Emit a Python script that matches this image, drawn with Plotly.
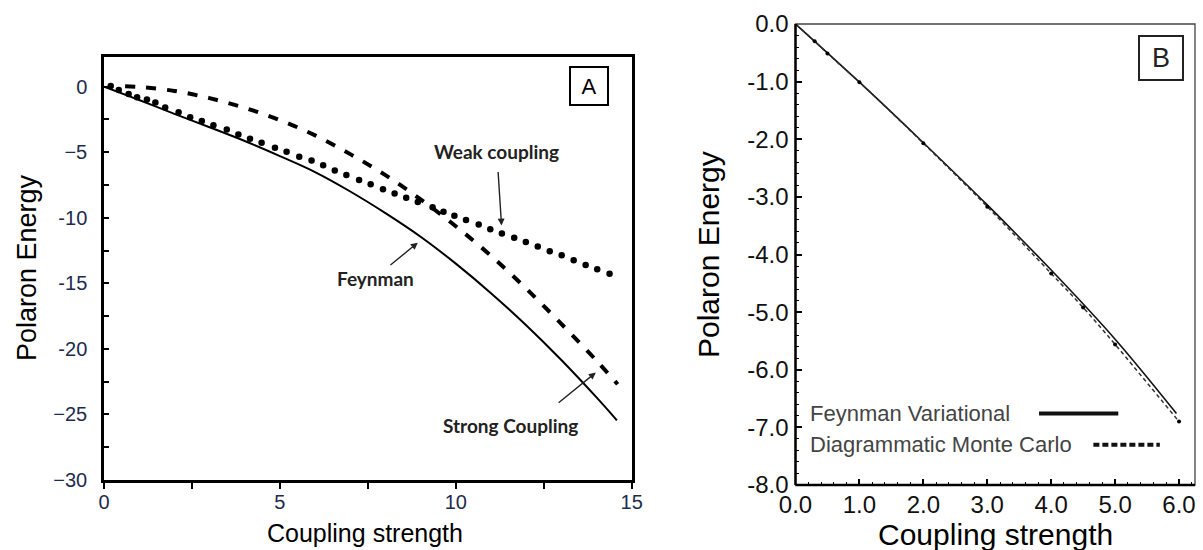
import plotly.graph_objects as go

W, H = 1203, 550

# ---------------- Panel A data ----------------
feynman_a_x = [0, 1, 2, 3, 4, 5, 6, 7, 8, 9, 10, 11, 12, 13, 14, 14.58]
feynman_a_y = [0, -1.02, -2.08, -3.1, -4.15, -5.3, -6.52, -8.0, -9.65, -11.45, -13.5,
               -15.75, -18.2, -20.85, -23.7, -25.45]

weak_x = [0.19, 0.42, 0.70, 0.94, 1.22, 1.46, 1.74, 2.12, 2.45, 2.78, 3.11, 3.49, 3.82, 4.15,
          4.48, 4.86, 5.19, 5.55, 5.90, 6.23, 6.56, 6.89, 7.25, 7.58, 7.93, 8.26, 8.59, 8.92,
          9.34, 9.65, 9.96, 10.29, 10.65, 10.98, 11.31, 11.66, 11.99, 12.33, 12.67, 13.01,
          13.35, 13.69, 14.02, 14.37]
weak_y = [0.05, -0.25, -0.56, -0.81, -0.98, -1.22, -1.6, -1.95, -2.33, -2.63, -2.94, -3.27,
          -3.65, -3.98, -4.28, -4.67, -4.97, -5.35, -5.63, -6.0, -6.4, -6.75, -7.12, -7.45,
          -7.83, -8.15, -8.47, -8.8, -9.2, -9.55, -9.84, -10.18, -10.52, -10.88, -11.2,
          -11.52, -11.85, -12.2, -12.55, -12.87, -13.25, -13.6, -13.93, -14.28]

strong_x = [0.6, 1, 2, 3, 4, 5, 6, 7, 8, 9, 10, 11, 12, 13, 14, 14.6]
strong_y = [0.02, -0.03, -0.33, -0.88, -1.62, -2.55, -3.72, -5.15, -6.75, -8.6, -10.65,
            -12.9, -15.4, -18.1, -20.9, -22.7]

a_xticks = [0, 5, 10, 15]
a_xticktext = ["0", "5", "10", "15"]
a_yticks = [0, -5, -10, -15, -20, -25, -30]
a_yticktext = ["0", "\u22125", "-10", "-15", "-20", "\u221225", "\u221230"]

# ---------------- Panel B data ----------------
feyn_b_x = [0, 1, 2, 3, 4, 5, 5.96]
feyn_b_y = [0, -1.01, -2.06, -3.14, -4.27, -5.47, -6.76]

dmc_x = [0, 0.3, 0.5, 1.0, 2.0, 3.0, 4.0, 4.5, 5.0, 6.0]
dmc_y = [0, -0.3, -0.51, -1.01, -2.07, -3.17, -4.33, -4.92, -5.56, -6.90]

b_xticks = [0, 1, 2, 3, 4, 5, 6]
b_xticktext = ["0.0", "1.0", "2.0", "3.0", "4.0", "5.0", "6.0"]
b_yticks = [0, -1, -2, -3, -4, -5, -6, -7, -8]
b_yticktext = ["0.0", "-1.0", "-2.0", "-3.0", "-4.0", "-5.0", "-6.0", "-7.0", "-8.0"]

legend_b = ["Feynman Variational", "Diagrammatic Monte Carlo"]


def px(x):
    return x / W


def py(y):
    return 1 - y / H


fig = go.Figure()

# Panel A traces
fig.add_trace(go.Scatter(x=feynman_a_x, y=feynman_a_y, mode="lines",
                         line=dict(color="black", width=2, shape="spline"),
                         xaxis="x", yaxis="y", showlegend=False))
fig.add_trace(go.Scatter(x=strong_x, y=strong_y, mode="lines",
                         line=dict(color="black", width=4, dash="10px,11px", shape="spline"),
                         xaxis="x", yaxis="y", showlegend=False))
fig.add_trace(go.Scatter(x=weak_x, y=weak_y, mode="markers",
                         marker=dict(color="black", size=6.5, line=dict(width=0)),
                         xaxis="x", yaxis="y", showlegend=False))

# Panel B traces
fig.add_trace(go.Scatter(x=feyn_b_x, y=feyn_b_y, mode="lines",
                         line=dict(color="#111", width=1.6, shape="spline"),
                         xaxis="x2", yaxis="y2", showlegend=False))
fig.add_trace(go.Scatter(x=dmc_x, y=dmc_y, mode="lines+markers",
                         line=dict(color="#333", width=1.5, dash="4px,3px", shape="spline"),
                         marker=dict(color="black", size=4),
                         xaxis="x2", yaxis="y2", showlegend=False))

navy = "#1d2b4d"
fontA = dict(family="Liberation Sans, Arial", size=20, color=navy)
fontB = dict(family="Liberation Sans, Arial", size=24, color="#111")

fig.update_layout(
    width=W, height=H,
    margin=dict(l=0, r=0, t=0, b=0, pad=0, autoexpand=False),
    paper_bgcolor="white", plot_bgcolor="white",
    xaxis=dict(domain=[px(104), px(631.7)], range=[0, 15], anchor="y", automargin=False,
               tickmode="array", tickvals=a_xticks, ticktext=a_xticktext,
               ticks="outside", ticklen=6, tickwidth=2, tickcolor="black",
               minor=dict(tickmode="linear", tick0=0, dtick=2.5, ticks="outside", ticklen=6,
                          tickwidth=2, tickcolor="black"),
               showgrid=False, zeroline=False, showline=True, linecolor="black", linewidth=2.5,
               mirror=True, tickfont=fontA, ticklabelstandoff=-4),
    yaxis=dict(domain=[py(480), py(56.7)], range=[-30, 2.28], anchor="x", automargin=False,
               tickmode="array", tickvals=a_yticks, ticktext=a_yticktext,
               ticks="inside", ticklen=5, tickwidth=1.5, tickcolor="black",
               minor=dict(tickmode="linear", tick0=0, dtick=2.5, ticks="inside", ticklen=5,
                          tickwidth=1.5, tickcolor="black"),
               showgrid=False, zeroline=False, showline=True, linecolor="black", linewidth=2.5,
               mirror=True, tickfont=fontA, ticklabelstandoff=10),
    xaxis2=dict(domain=[px(795.5), px(1195)], range=[0, 6.25], anchor="y2", automargin=False,
                tickmode="array", tickvals=b_xticks, ticktext=b_xticktext,
                ticks="inside", ticklen=6, tickwidth=1.5, tickcolor="black",
                minor=dict(tickmode="linear", tick0=0, dtick=0.2, ticks="inside", ticklen=3,
                           tickwidth=1, tickcolor="black"),
                showgrid=False, zeroline=False, showline=False,
                tickfont=fontB, ticklabelstandoff=3),
    yaxis2=dict(domain=[py(485), py(24)], range=[-8, 0], anchor="x2", automargin=False,
                tickmode="array", tickvals=b_yticks, ticktext=b_yticktext,
                ticks="inside", ticklen=6, tickwidth=1.5, tickcolor="black",
                minor=dict(tickmode="linear", tick0=0, dtick=0.2, ticks="inside", ticklen=3,
                           tickwidth=1, tickcolor="black"),
                showgrid=False, zeroline=False, showline=False,
                tickfont=fontB, ticklabelstandoff=6),
)

# Panel B frame: thin gray top/right, black left/bottom
fig.add_shape(type="rect", xref="x2 domain", yref="y2 domain", x0=0, x1=1, y0=0, y1=1,
              line=dict(color="#444", width=1.3))
fig.add_shape(type="line", xref="x2 domain", yref="y2 domain", x0=0, x1=0, y0=0, y1=1,
              line=dict(color="black", width=2.5))
fig.add_shape(type="line", xref="x2 domain", yref="y2 domain", x0=0, x1=1, y0=0, y1=0,
              line=dict(color="black", width=2.5))

# Panel B legend samples
fig.add_shape(type="line", xref="x2", yref="y2", x0=3.81, x1=5.05, y0=-6.76, y1=-6.76,
              line=dict(color="#111", width=4))
fig.add_shape(type="line", xref="x2", yref="y2", x0=4.66, x1=5.70, y0=-7.30, y1=-7.30,
              line=dict(color="#111", width=4, dash="6px,3px"))
fig.add_annotation(x=0.2, y=-6.76, xref="x2", yref="y2", text=legend_b[0], showarrow=False,
                   xanchor="left", yanchor="middle",
                   font=dict(family="Liberation Sans, Arial", size=22, color="#444"))
fig.add_annotation(x=0.2, y=-7.30, xref="x2", yref="y2", text=legend_b[1], showarrow=False,
                   xanchor="left", yanchor="middle",
                   font=dict(family="Liberation Sans, Arial", size=22, color="#444"))


def label(xp, yp, text, font, **kw):
    fig.add_annotation(x=px(xp), y=py(yp), xref="paper", yref="paper", text=text,
                       showarrow=False, xanchor="center", yanchor="middle", font=font, **kw)


# Panel labels
label(588.5, 85.5, "A", dict(family="Liberation Sans, Arial", size=22, color="black"),
      bordercolor="black", borderwidth=2, borderpad=5, bgcolor="white", width=26, height=26)
label(1161, 58.3, "B", dict(family="Liberation Sans, Arial", size=27, color="#222"),
      bordercolor="#222", borderwidth=2, borderpad=5, bgcolor="white", width=32, height=32)

# Panel A curve labels
lab_font = dict(family="Lato, Open Sans", size=19, color="#222")
label(496.7, 151.7, "<b>Weak coupling</b>", lab_font)
label(375, 278.3, "<b>Feynman</b>", lab_font)
label(510, 425, "<b>Strong Coupling</b>", lab_font)

# arrows (tail -> tip)
arrows = [((11.2, -6.4), (11.3, -10.6)),
          ((8.10, -13.7), (8.92, -11.9)),
          ((12.88, -24.2), (13.98, -21.8))]
for (tx, ty), (hx, hy) in arrows:
    fig.add_annotation(x=hx, y=hy, ax=tx, ay=ty, xref="x", yref="y", axref="x", ayref="y",
                       text="", showarrow=True, arrowhead=2, arrowsize=1, arrowwidth=1.4,
                       arrowcolor="#222", standoff=0, startstandoff=0)

# axis titles
label(27, 268, "Polaron Energy", dict(family="Liberation Sans, Arial", size=27, color="black"),
      textangle=-90)
label(365, 533, "Coupling strength", dict(family="Liberation Sans, Arial", size=25, color="black"))
label(708, 255, "Polaron Energy", dict(family="Liberation Sans, Arial", size=30, color="black"),
      textangle=-90)
label(996, 534, "Coupling strength", dict(family="Liberation Sans, Arial", size=30, color="black"))

fig.write_html("out.html")
